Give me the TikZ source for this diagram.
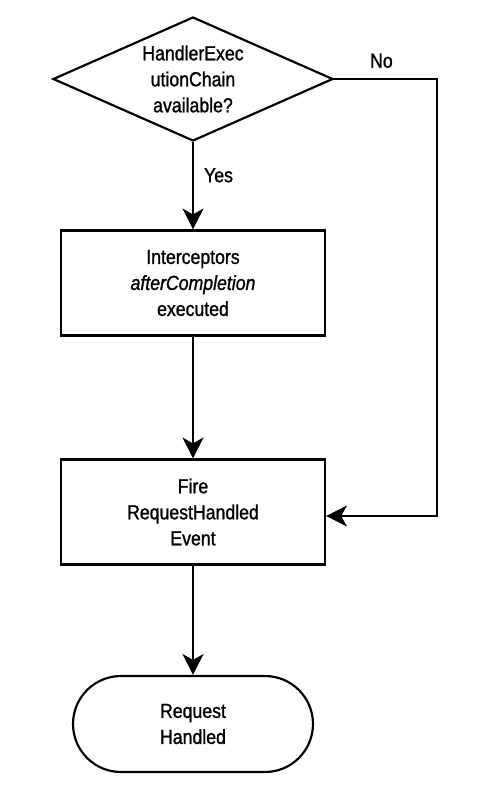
\documentclass[tikz,border=0pt]{standalone}
\usepackage{fontspec}
\setmainfont{Liberation Sans}[FakeStretch=0.87,FakeBold=1.2]
\usetikzlibrary{%
  arrows.meta,%
  shapes.geometric,% wg. diamond
  positioning%
}

\begin{document}
\begin{tikzpicture}[
    x=0.6pt,y=-0.6pt,
    >={Stealth[length=12.5pt,width=12.5pt,inset=3.5pt]},
    line width=1.3pt,line join=miter,
    every node/.style={font=\fontsize{12.2}{15.6}\selectfont,align=center},
    decision/.style={diamond,draw,aspect=2.26,inner sep=0pt,
        minimum width=168pt,minimum height=74.4pt},
    process/.style={rectangle,draw,minimum width=158.4pt,minimum height=63pt},
    terminal/.style={rectangle,draw,rounded corners=28.8pt,
        minimum width=144pt,minimum height=57.6pt},
    lbl/.style={inner sep=0pt}
  ]
    \useasboundingbox (0,0) rectangle (478,789);

    \node [decision] (chain)   at (193,79)  {HandlerExec\\utionChain\\available?};
    \node [process]  (intcpt)  at (193,283) {Interceptors\\\textit{afterCompletion}\\executed};
    \node [process]  (fire)    at (193,512) {Fire\\RequestHandled\\Event};
    \node [terminal] (handled) at (193,724) {Request\\Handled};
    \coordinate (bend) at (437,79);

    \draw [->] (chain) -- node [lbl,pos=0.38,right=6pt] {Yes} (intcpt);
    \draw [->] (intcpt) -- (fire);
    \draw [->] (fire) -- (handled);
    \draw [->] (chain.east) -- node [lbl,pos=0.46,above=6pt] {No} (bend)
        |- (fire.east |- 0,516);
\end{tikzpicture}
\end{document}
